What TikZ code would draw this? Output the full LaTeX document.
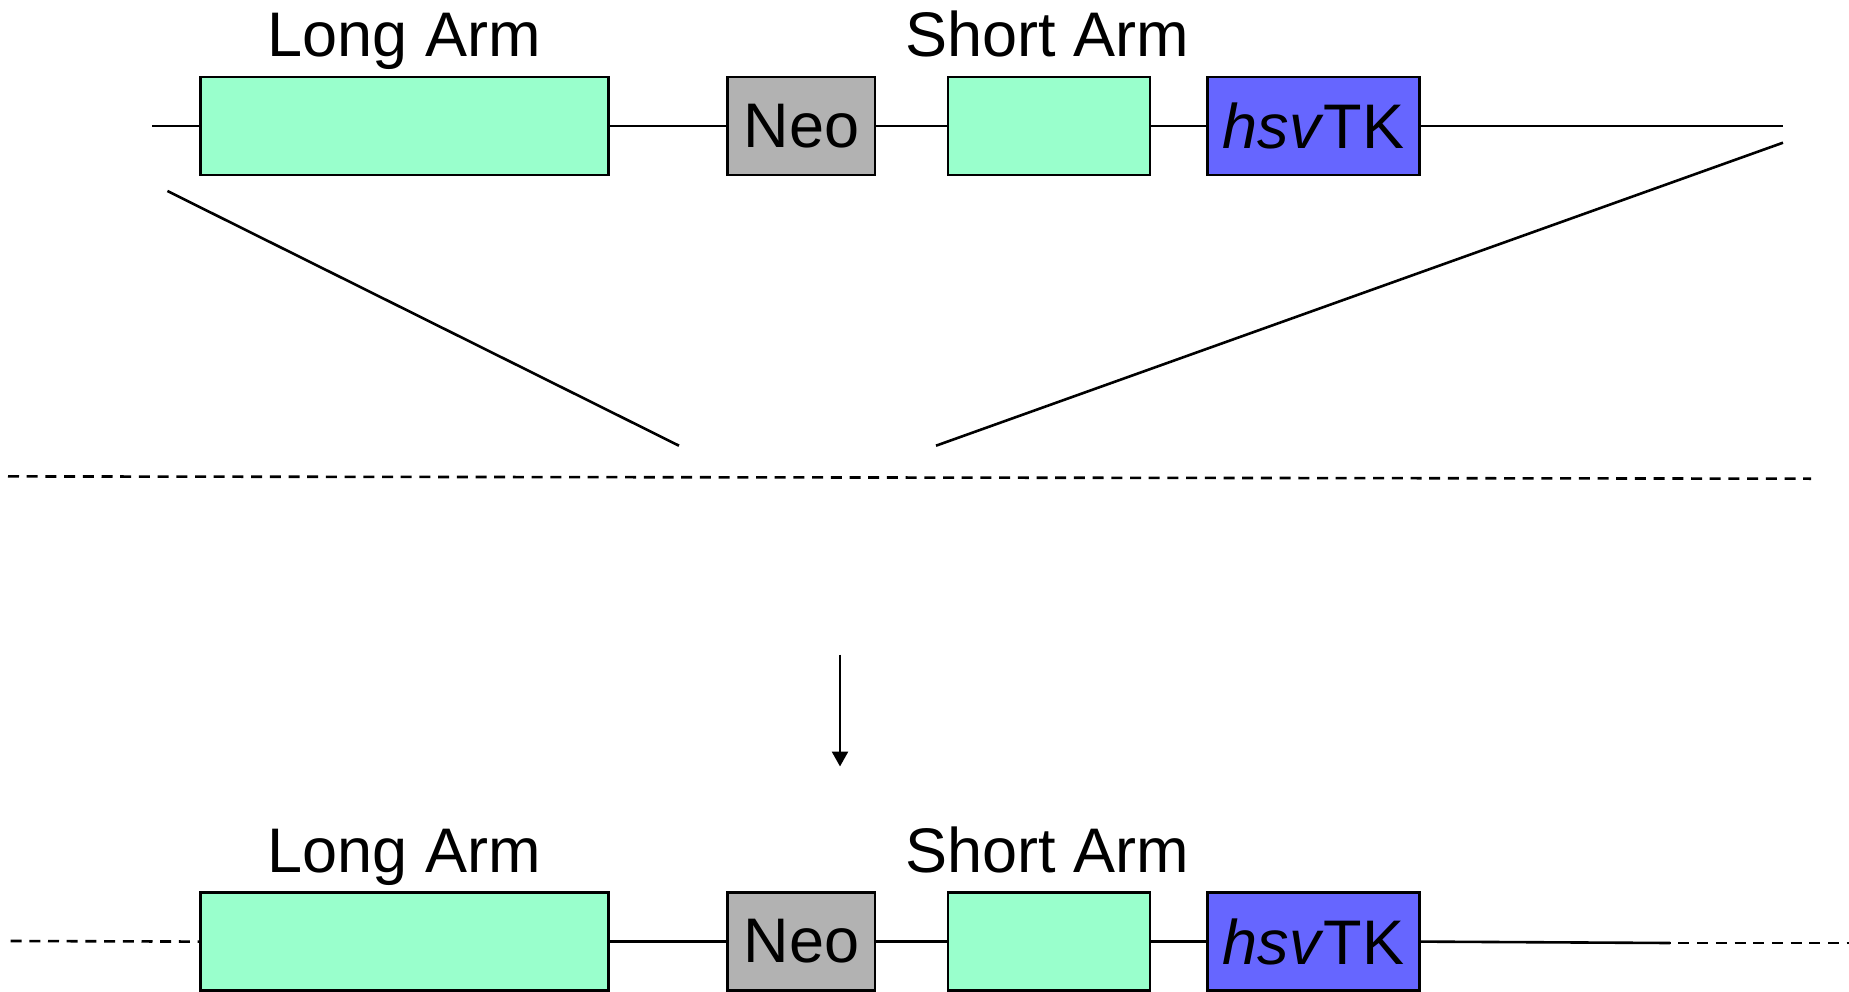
\documentclass[tikz,border=0pt]{standalone}
\usepackage{fontspec}
\setmainfont{Liberation Sans}
\usetikzlibrary{arrows.meta}
\definecolor{armgreen}{HTML}{99FFCC}
\definecolor{neogray}{HTML}{B2B2B2}
\definecolor{tkblue}{HTML}{6666FF}
\tikzset{
  ln/.style={line width=2.6pt},
  dln/.style={line width=2.6pt, dash pattern=on 11pt off 7.7pt},
  gbox/.style={draw, line width=2.6pt, inner sep=0pt, minimum height=98pt, font=\fontsize{63}{76}\selectfont},
  lbl/.style={anchor=base, inner sep=0pt, font=\fontsize{63}{76}\selectfont},
}
\begin{document}
\begin{tikzpicture}[x=1pt, y=-1pt]
\useasboundingbox (0,0) rectangle (1849,992);
% ---------- top row ----------
\node[gbox, fill=armgreen, minimum width=408pt] (la1) at (404.5,126) {};
\node[gbox, fill=neogray, minimum width=147.5pt] (neo1) at (801.3,126) {Neo};
\node[gbox, fill=armgreen, minimum width=201.7pt] (sa1) at (1049,126) {};
\node[gbox, fill=tkblue, minimum width=212pt] (tk1) at (1313.6,126) {\textit{hsv}TK};
\node[lbl] (lal1) at (404,56.6) {Long Arm};
\node[lbl] (sal1) at (1047,56.6) {Short Arm};
\coordinate (l1) at (152,126);
\coordinate (r1) at (1783,126);
\draw[ln] (l1) -- (la1.west);
\draw[ln] (la1.east) -- (neo1.west);
\draw[ln] (neo1.east) -- (sa1.west);
\draw[ln] (sa1.east) -- (tk1.west);
\draw[ln] (tk1.east) -- (r1);
% ---------- crossover lines ----------
\coordinate (dl1) at (167.4,191);
\coordinate (dl2) at (679,445.7);
\coordinate (dr1) at (1783,142.7);
\coordinate (dr2) at (936,445.7);
\draw[ln] (dl1) -- (dl2);
\draw[ln] (dr1) -- (dr2);
% ---------- genomic (dashed) ----------
\coordinate (g1) at (8,476.4);
\coordinate (g2) at (1811,478.7);
\draw[dln] (g1) -- (g2);
% ---------- arrow ----------
\coordinate (a1) at (840,654.5);
\coordinate (a2) at (840,766.5);
\draw[ln, -{Triangle[width=16pt,length=15pt]}] (a1) -- (a2);
% ---------- bottom row ----------
\node[gbox, fill=armgreen, minimum width=408pt] (la2) at (404.5,941.6) {};
\node[gbox, fill=neogray, minimum width=147.5pt] (neo2) at (801.3,941.6) {Neo};
\node[gbox, fill=armgreen, minimum width=201.7pt] (sa2) at (1049,941.6) {};
\node[gbox, fill=tkblue, minimum width=212pt] (tk2) at (1313.6,941.6) {\textit{hsv}TK};
\node[lbl] (lal2) at (404,872.6) {Long Arm};
\node[lbl] (sal2) at (1047,872.6) {Short Arm};
\coordinate (l2) at (10.6,941);
\coordinate (r2a) at (1670,943);
\coordinate (r2b) at (1641,943);
\coordinate (r2c) at (1849,943);
\draw[dln] (l2) -- (la2.west);
\draw[ln] (la2.east) -- (neo2.west);
\draw[ln] (neo2.east) -- (sa2.west);
\draw[ln] (sa2.east) -- (tk2.west);
\draw[ln] (tk2.east) -- (r2a);
\draw[dln] (r2b) -- (r2c);
\end{tikzpicture}
\end{document}
